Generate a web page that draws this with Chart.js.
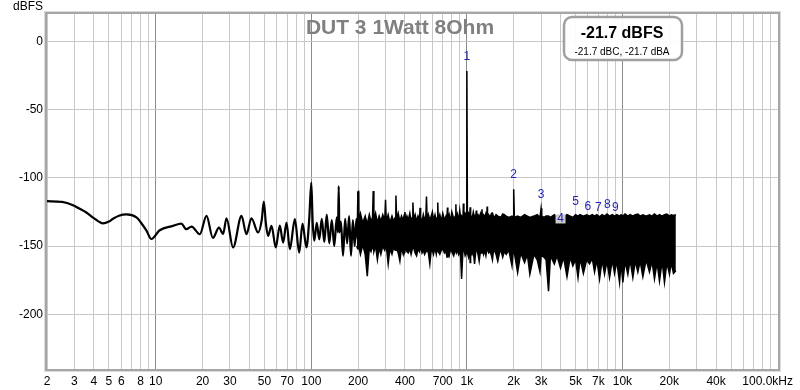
<!DOCTYPE html>
<html>
<head>
<meta charset="utf-8">
<script src="https://cdn.jsdelivr.net/npm/chart.js@4.4.0/dist/chart.umd.min.js"></script>
<style>
  body { margin: 0; background: #fff; }
  canvas { display: block; }
</style>
</head>
<body>
<canvas id="fft" width="800" height="390"></canvas>
<script>
// low frequency part of the spectrum, drawn as a single trace
const traceFreq = [2, 2.5, 2.94, 3.2, 3.58, 4, 4.58, 5, 5.31, 5.8,
  6.48, 7.52, 8, 8.7, 9.38, 10.6, 12.9, 14.6, 15.7, 17,
  19.2, 21.2, 23.3, 25.5, 27.1, 28.5, 31.4, 35.6, 38.3, 41.2,
  45.5, 48, 49.5, 51, 52.7, 55.5, 59.1, 62.7, 65.9, 69.3,
  72.8, 78.4, 83.6, 87.8, 93.1, 97, 100, 102, 104.5, 108.4,
  112.5, 116.8, 121.2, 125.7, 130.5, 135.4, 140.5, 145.8, 148.5, 150,
  151.5, 155, 160, 165, 170, 175, 180, 185, 190, 195,
  198.5, 200, 201.5];
const traceLevel = [-117.1, -117.6, -120, -122.3, -125.4, -129.5, -133.3, -132, -130, -127.8,
  -126.8, -129, -132.5, -138.5, -144.8, -138.4, -135.2, -133.5, -137.6, -135.7,
  -141.3, -127.8, -144, -136.4, -141, -129.6, -151, -127.9, -141.3, -129.6,
  -140, -131, -117.4, -133, -142.5, -135.2, -151, -135, -147.4, -132.7,
  -152.3, -130.3, -154.7, -133.5, -151, -130, -103.4, -132, -146, -133,
  -145, -130, -147, -127, -148, -131, -150, -129, -140, -106,
  -140, -132, -157, -130, -148, -128, -157, -131, -150, -130,
  -145, -110, -150];

// dense noise floor above ~200 Hz: top and bottom of the black band
const bandFreq = [196, 198.5, 200, 201.5, 207, 214, 222, 229, 236, 242,
  247.5, 250, 252.5, 259, 266, 273, 280, 288, 296.5, 300,
  303.5, 312, 320, 330, 338, 346.5, 350, 353.5, 362, 371,
  380, 390, 396, 400, 404, 412, 420, 430, 438, 446,
  450, 454.5, 465, 475, 485, 495.5, 500, 504.5, 515, 525,
  535, 545, 550, 555.5, 566, 578, 590, 600, 610, 624,
  636, 645, 650, 655, 670, 685, 700, 718, 735, 745,
  750, 755, 770, 785, 800, 823, 844, 850, 856, 870,
  885, 900, 912, 925, 943, 950, 957, 975, 992, 1000,
  1008, 1025, 1043, 1050, 1057, 1080, 1100, 1120, 1143, 1150,
  1157, 1180, 1200, 1225, 1243, 1250, 1257, 1280, 1300, 1325,
  1343, 1350, 1357, 1380, 1410, 1440, 1460, 1480, 1502, 1540,
  1580, 1620, 1656, 1700, 1739, 1790, 1860, 1950, 1980, 2000,
  2020, 2120, 2220, 2350, 2448, 2540, 2699, 2834, 2950, 3000,
  3030, 3125, 3230, 3350, 3445, 3650, 3798, 4000, 4187, 4400,
  4616, 4800, 5000, 5180, 5343, 5610, 5891, 6144, 6400, 6618,
  6850, 7127, 7400, 7673, 7950, 8263, 8600, 8898, 9200, 9582,
  9800, 10061, 10400, 10835, 11200, 11667, 12100, 12563, 13000, 13529,
  14200, 14921, 15500, 16068, 16700, 17302, 18000, 18632, 19300, 20063,
  20600, 21288, 22050];
const bandTop = [-130, -131, -110, -131, -126, -133, -128, -134, -127, -132,
  -129, -109.6, -131, -126, -133, -128, -132, -127, -131, -116,
  -132, -127, -133, -128, -132, -129, -113, -131, -126, -132,
  -128, -131, -127, -125, -132, -128, -131, -126, -132, -129,
  -118, -131, -127, -132, -128, -131, -122, -129, -132, -127,
  -131, -128, -113.7, -132, -127, -131, -128, -125, -131, -127,
  -132, -129, -118, -131, -127, -132, -126, -131, -128, -130,
  -121.8, -131, -127, -132, -125, -130, -128, -119.3, -131, -127,
  -132, -124, -130, -128, -131, -118.8, -129, -126, -128, -21.7,
  -128, -126, -129, -121.5, -127, -130, -125, -129, -127, -124,
  -129, -127, -129, -126, -129, -123, -128, -127, -129, -126,
  -128, -121, -129, -127, -129, -126, -125.7, -128, -129, -127,
  -128, -128.5, -129, -126.5, -127, -128, -129, -128, -129, -108.3,
  -129, -128, -129, -127, -128, -129, -128, -127, -129, -122.3,
  -128, -129, -128, -128, -129, -127, -129, -128, -129, -127,
  -128, -129, -127, -128, -127, -128, -127, -128, -127, -128,
  -127, -128.5, -127, -128, -126.5, -128, -127, -128, -127, -128,
  -127, -128, -126.5, -128, -127, -128, -127, -126.5, -128, -127,
  -128, -127, -128, -126.5, -128, -127, -128, -127, -126.5, -128,
  -127, -127.5, -127];
const bandBottom = [-150, -152, -152, -150, -156, -149, -156, -172, -151, -154,
  -150, -151, -154, -150, -160, -151, -156, -150, -153, -151,
  -150, -163, -152, -156, -151, -153, -150, -152, -155, -161,
  -151, -156, -152, -153, -151, -154, -155, -152, -156, -152,
  -152, -151, -155, -157, -152, -154, -152, -150, -155, -153,
  -156, -154, -154, -152, -155, -163, -153, -153, -156, -151,
  -156, -152, -152, -154, -156, -153, -152, -155, -154, -158,
  -158, -154, -157, -152, -154, -157, -152, -152, -155, -153,
  -156, -153, -158, -174, -153, -153, -152, -157, -155, -155,
  -155, -158, -152, -162, -153, -156, -153, -163, -153, -153,
  -152, -156, -161, -153, -155, -153, -152, -156, -153, -157,
  -152, -153, -152, -155, -154, -157, -160, -154, -153, -156,
  -161, -155, -153, -158, -154, -156, -153, -164.5, -155, -155,
  -155, -169.4, -155, -162, -156, -170.6, -156, -160, -168.9, -157,
  -157, -158, -160, -183, -157, -163, -157, -166, -158, -172.4,
  -158, -164.5, -160, -173, -159, -170, -160, -163, -159, -168.9,
  -160, -174.2, -160, -170.6, -161, -173, -160, -170, -161, -176.6,
  -162, -176.6, -161, -170.6, -160, -173, -161, -169, -161, -172.4,
  -160, -169, -161, -174, -162, -175.5, -161, -176.6, -162, -170.6,
  -162, -170, -168];

// harmonic markers
const harmonicFreq = [1000, 2000, 3000, 4000, 5000, 6000, 7000, 8000, 9000];
const harmonicLevel = [-21.7, -108.3, -122.3, -140, -128, -131.5, -132, -129.6, -132];
const harmonicName = ['1', '2', '3', '4', '5', '6', '7', '8', '9'];

// axes
const gridSteps = [1, 2, 3, 4, 5, 6, 7, 8, 9];
const gridDecades = [1, 10, 100, 1000, 10000, 100000];
const xTickValues = [2, 3, 4, 5, 6, 8, 10, 20, 30, 50, 70, 100, 200, 400, 700, 1000, 2000, 3000, 5000, 7000, 10000, 20000, 40000];
const xTickLabels = ['2', '3', '4', '5', '6', '8', '10', '20', '30', '50', '70', '100', '200', '400', '700', '1k', '2k', '3k', '5k', '7k', '10k', '20k', '40k'];
const yTickValues = [-200, -150, -100, -50, 0];

const FONT = "'Liberation Sans', Arial, sans-serif";
Chart.defaults.font.family = FONT;
Chart.defaults.color = '#000';

const gridFreqs = [];
gridDecades.forEach(d => gridSteps.forEach(s => {
  const v = s * d;
  if (v >= 2 && v <= 100000) gridFreqs.push(v);
}));

const toPoints = (xs, ys) => xs.map((x, i) => ({ x: x, y: ys[i] }));

const overlay = {
  id: 'overlay',
  afterDraw(chart) {
    const ctx = chart.ctx;
    const a = chart.chartArea;
    const sx = chart.scales.x, sy = chart.scales.y;
    ctx.save();

    // frame
    ctx.strokeStyle = '#dcdcdc';
    ctx.lineWidth = 1;
    ctx.strokeRect(a.left - 2.5, a.top - 2.5, a.right - a.left + 5, a.bottom - a.top + 5);
    ctx.strokeStyle = '#a6a6a6';
    ctx.lineWidth = 2;
    ctx.strokeRect(a.left - 1, a.top - 1, a.right - a.left + 2, a.bottom - a.top + 2);

    // harmonic numbers
    ctx.font = '12px ' + FONT;
    ctx.textAlign = 'center';
    ctx.textBaseline = 'middle';
    harmonicFreq.forEach((f, i) => {
      const px = sx.getPixelForValue(f);
      const py = sy.getPixelForValue(harmonicLevel[i]) - 14;
      if (harmonicName[i] === '4') {
        ctx.fillStyle = '#cbcbcb';
        ctx.fillRect(px - 5, py - 4, 10, 9);
      }
      ctx.fillStyle = '#2424b4';
      ctx.fillText(harmonicName[i], px, py);
    });

    // title
    ctx.fillStyle = '#808080';
    ctx.font = 'bold 21px ' + FONT;
    ctx.textBaseline = 'alphabetic';
    ctx.fillText('DUT 3 1Watt 8Ohm', 400, 34);

    // level box
    ctx.beginPath();
    ctx.roundRect(564, 17, 118, 43, 8);
    ctx.fillStyle = 'rgba(255,255,255,0.92)';
    ctx.fill();
    ctx.strokeStyle = '#a0a0a0';
    ctx.lineWidth = 2.5;
    ctx.stroke();
    ctx.fillStyle = '#000';
    ctx.font = 'bold 16px ' + FONT;
    ctx.textBaseline = 'middle';
    ctx.fillText('-21.7 dBFS', 622, 34);
    ctx.font = '10px ' + FONT;
    ctx.fillText('-21.7 dBC, -21.7 dBA', 622, 52);

    // unit labels
    ctx.font = '12px ' + FONT;
    ctx.textAlign = 'left';
    ctx.textBaseline = 'alphabetic';
    ctx.fillText('dBFS', 13, 10);
    ctx.textAlign = 'right';
    ctx.textBaseline = 'middle';
    ctx.fillText('100.0kHz', 793, 382);
    ctx.restore();
  }
};

new Chart(document.getElementById('fft'), {
  type: 'line',
  data: {
    datasets: [
      {
        data: toPoints(traceFreq, traceLevel),
        borderColor: '#000',
        borderWidth: 2.2,
        pointRadius: 0,
        cubicInterpolationMode: 'monotone',
        fill: false
      },
      {
        data: toPoints(bandFreq, bandTop),
        borderColor: '#000',
        borderWidth: 1.5,
        pointRadius: 0,
        tension: 0,
        fill: false
      },
      {
        data: toPoints(bandFreq, bandBottom),
        borderColor: '#000',
        borderWidth: 1.5,
        pointRadius: 0,
        tension: 0,
        fill: '-1',
        backgroundColor: '#000'
      }
    ]
  },
  options: {
    responsive: false,
    animation: false,
    devicePixelRatio: 1,
    layout: { padding: { top: 14, right: 22, left: 0, bottom: 0 } },
    plugins: { legend: { display: false }, tooltip: { enabled: false } },
    scales: {
      x: {
        type: 'logarithmic',
        min: 2,
        max: 100000,
        afterBuildTicks: scale => { scale.ticks = gridFreqs.map(v => ({ value: v })); },
        afterFit: scale => { scale.height = 21; },
        border: { display: false },
        grid: {
          drawTicks: false,
          color: c => (c.tick && [10, 100, 1000, 10000].includes(c.tick.value)) ? '#8a8a8a' : '#c8c8c8'
        },
        ticks: {
          autoSkip: false,
          maxRotation: 0,
          minRotation: 0,
          padding: 5,
          font: { size: 12 },
          callback: value => {
            const i = xTickValues.indexOf(value);
            return i >= 0 ? xTickLabels[i] : '';
          }
        }
      },
      y: {
        min: -240,
        max: 20,
        afterBuildTicks: scale => { scale.ticks = yTickValues.map(v => ({ value: v })); },
        afterFit: scale => { scale.width = 47; },
        border: { display: false },
        grid: { drawTicks: false, color: '#c8c8c8' },
        ticks: { padding: 4, font: { size: 12 } }
      }
    }
  },
  plugins: [overlay]
});
</script>
</body>
</html>
